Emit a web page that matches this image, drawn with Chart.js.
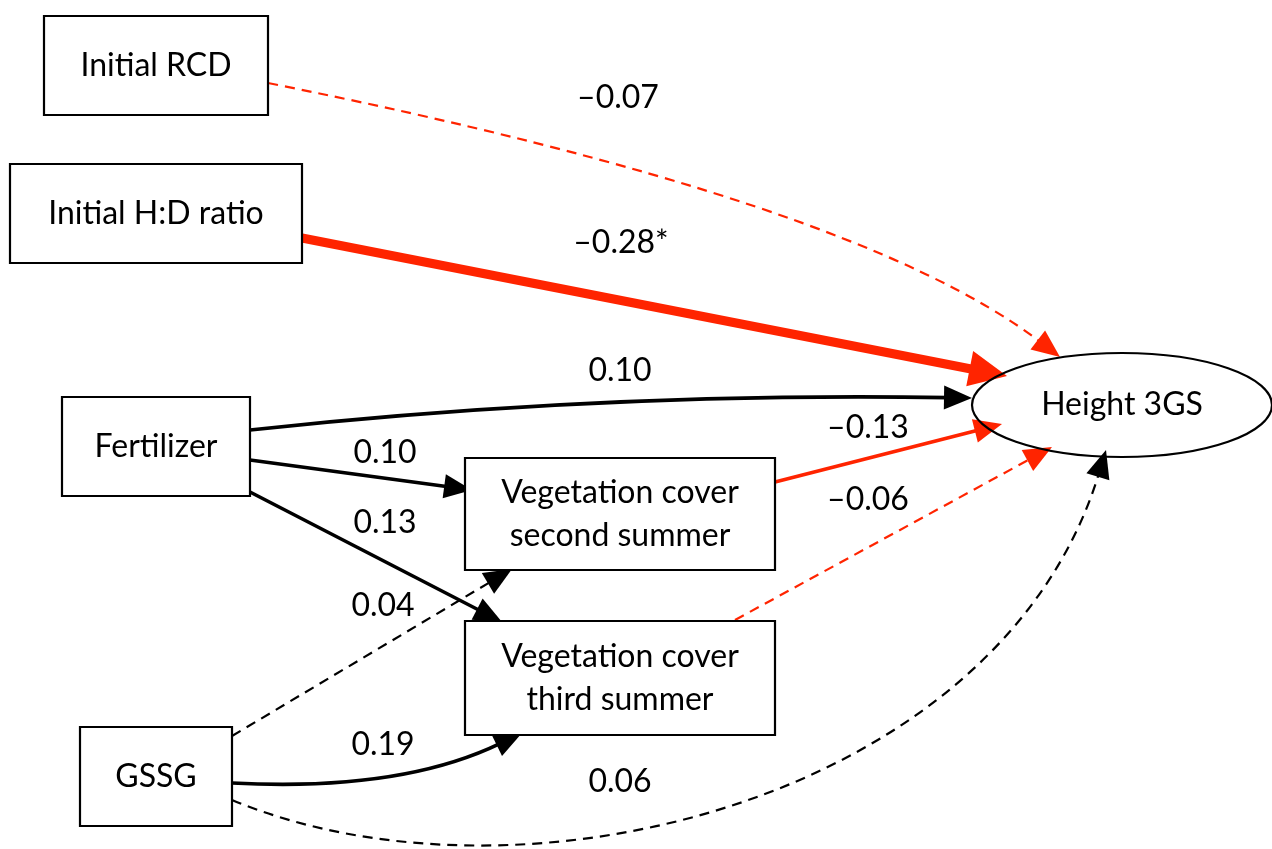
<!DOCTYPE html>
<html lang="en">
<head>
    <meta charset="UTF-8">
    <title>Path diagram | Height 3GS</title>
    <script src="https://cdn.jsdelivr.net/npm/chart.js"></script>
    <style>
        body { margin: 0; background: #ffffff; }
        #wrap { width: 1272px; height: 849px; }
    </style>
</head>
<body>
    <div id="wrap">
        <canvas id="myChart" width="1272" height="849"></canvas>
    </div>

<script>
    // nodes of the model
    const nodeNames = ['Initial RCD', 'Initial H:D ratio', 'Fertilizer', 'GSSG',
        'Vegetation cover\nsecond summer', 'Vegetation cover\nthird summer', 'Height 3GS'];

    // paths: from -> to, standardized coefficient, significant?
    const edgeFrom = [0, 1, 2, 2, 2, 4, 5, 3, 3, 3];
    const edgeTo = [6, 6, 6, 4, 5, 6, 6, 4, 5, 6];
    const coefficients = [-0.07, -0.28, 0.10, 0.10, 0.13, -0.13, -0.06, 0.04, 0.19, 0.06];
    const significant = [false, true, false, false, false, false, false, false, false, false];

    // layout (diagram units = pixels of the original figure)
    const nodeBox = [
        { x: 44, y: 16, w: 224, h: 99 },
        { x: 10, y: 164, w: 292, h: 99 },
        { x: 62, y: 397, w: 188, h: 99 },
        { x: 80, y: 727, w: 152, h: 99 },
        { x: 465, y: 458, w: 310, h: 112 },
        { x: 465, y: 621, w: 310, h: 114 },
        { cx: 1122, cy: 405, rx: 150, ry: 52, ellipse: true }
    ];

    // path geometry: start, control points, arrow tip
    const edgePath = [
        [[268, 83], [855, 200], [1060, 357]],
        [[302, 238], [1007, 376]],
        [[250, 430], [600, 392], [972, 398]],
        [[250, 460], [472, 490]],
        [[250, 492], [502, 622]],
        [[775, 482], [1002, 424]],
        [[735, 620], [1052, 447]],
        [[232, 736], [512, 569]],
        [[232, 783], [400, 792], [522, 733]],
        [[232, 800], [520, 920], [1000, 800], [1106, 450]]
    ];
    const labelPos = [[618, 98], [621, 243], [620, 371], [385, 453], [385, 523],
        [868, 428], [868, 500], [383, 606], [383, 745], [620, 782]];

    const RED = '#ff2400';
    const FONT = '32px Lato, "Open Sans", sans-serif';

    function formatCoef(v, sig) {
        let s = (v < 0 ? '\u2013' : '') + Math.abs(v).toFixed(2);
        if (sig) s += '*';
        return s;
    }

    const diagramPlugin = {
        id: 'diagram',
        afterDatasetsDraw(chart) {
            const ctx = chart.ctx;
            const sx = chart.scales.x, sy = chart.scales.y;
            const px = v => sx.getPixelForValue(v);
            const py = v => sy.getPixelForValue(v);
            const pt = p => [px(p[0]), py(p[1])];

            ctx.save();

            // edges
            for (let i = 0; i < edgeFrom.length; i++) {
                const v = coefficients[i];
                const color = v < 0 ? RED : '#000000';
                const sig = significant[i];
                const dashed = Math.abs(v) < 0.08;
                let lw = dashed ? 2.2 : 3.6;
                if (sig) lw = 9;
                const pts = edgePath[i].map(pt);
                const tip = pts[pts.length - 1];
                const prev = pts[pts.length - 2];
                const ang = Math.atan2(tip[1] - prev[1], tip[0] - prev[0]);
                const headL = sig ? 38 : 28;
                const headW = sig ? 18 : 12;
                // line ends at base of arrow head
                const end = [tip[0] - Math.cos(ang) * (headL - 4), tip[1] - Math.sin(ang) * (headL - 4)];

                ctx.strokeStyle = color;
                ctx.lineWidth = lw;
                ctx.setLineDash(dashed ? [10, 7] : []);
                ctx.beginPath();
                ctx.moveTo(pts[0][0], pts[0][1]);
                if (pts.length === 2) ctx.lineTo(end[0], end[1]);
                else if (pts.length === 3) ctx.quadraticCurveTo(pts[1][0], pts[1][1], end[0], end[1]);
                else ctx.bezierCurveTo(pts[1][0], pts[1][1], pts[2][0], pts[2][1], end[0], end[1]);
                ctx.stroke();
                ctx.setLineDash([]);

                // arrow head
                ctx.fillStyle = color;
                ctx.beginPath();
                ctx.moveTo(tip[0], tip[1]);
                ctx.lineTo(tip[0] - Math.cos(ang) * headL + Math.sin(ang) * headW,
                           tip[1] - Math.sin(ang) * headL - Math.cos(ang) * headW);
                ctx.lineTo(tip[0] - Math.cos(ang) * headL - Math.sin(ang) * headW,
                           tip[1] - Math.sin(ang) * headL + Math.cos(ang) * headW);
                ctx.closePath();
                ctx.fill();

                // coefficient label
                ctx.fillStyle = '#000000';
                ctx.font = FONT;
                ctx.textAlign = 'center';
                ctx.textBaseline = 'middle';
                ctx.fillText(formatCoef(v, sig), px(labelPos[i][0]), py(labelPos[i][1]));
            }

            // nodes
            ctx.lineWidth = 2.2;
            ctx.strokeStyle = '#000000';
            ctx.font = FONT;
            ctx.textAlign = 'center';
            ctx.textBaseline = 'middle';
            for (let i = 0; i < nodeNames.length; i++) {
                const b = nodeBox[i];
                let cx, cy;
                ctx.fillStyle = '#ffffff';
                ctx.beginPath();
                if (b.ellipse) {
                    cx = px(b.cx); cy = py(b.cy);
                    ctx.ellipse(cx, cy, b.rx, b.ry, 0, 0, Math.PI * 2);
                } else {
                    ctx.rect(px(b.x), py(b.y), b.w, b.h);
                    cx = px(b.x + b.w / 2); cy = py(b.y + b.h / 2);
                }
                if (!b.ellipse) ctx.fill();
                ctx.stroke();
                ctx.fillStyle = '#000000';
                const lines = nodeNames[i].split('\n');
                const lh = 43;
                lines.forEach((ln, k) => {
                    ctx.fillText(ln, cx, cy + (k - (lines.length - 1) / 2) * lh);
                });
            }
            ctx.restore();
        }
    };

    new Chart(document.getElementById('myChart'), {
        type: 'scatter',
        data: { datasets: [{ data: [], pointRadius: 0 }] },
        options: {
            responsive: false,
            animation: false,
            layout: { padding: 0 },
            plugins: { legend: { display: false }, tooltip: { enabled: false } },
            scales: {
                x: { display: false, min: 0, max: 1272 },
                y: { display: false, min: 0, max: 849, reverse: true }
            }
        },
        plugins: [diagramPlugin]
    });
</script>
</body>
</html>
